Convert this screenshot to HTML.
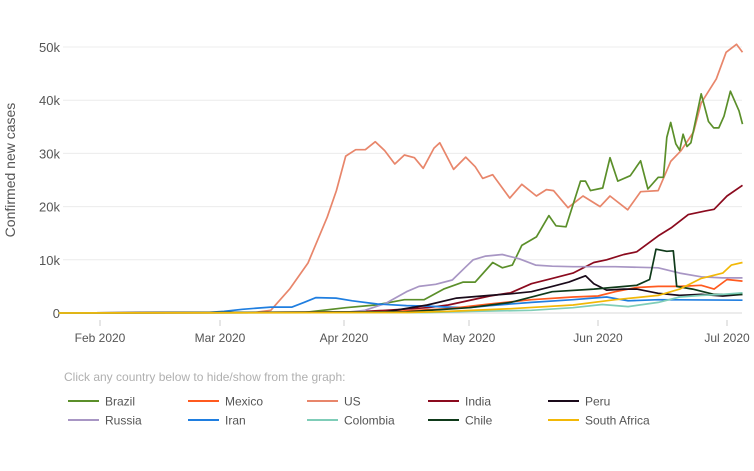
<!DOCTYPE html>
<html><head><meta charset="utf-8"><style>
body{margin:0;background:#fff;font-family:"Liberation Sans",sans-serif}
svg{display:block}
</style></head><body>
<svg id="chart" width="754" height="471"></svg>
<script>
const yTicks=[0,10000,20000,30000,40000,50000];
const yTickLabels=["0","10k","20k","30k","40k","50k"];
const xTickDays=[10,39,70,100,131,161];
const xTickLabels=["Feb 2020","Mar 2020","Apr 2020","May 2020","Jun 2020","Jul 2020"];
const countries=["Brazil","Mexico","US","India","Peru","Russia","Iran","Colombia","Chile","South Africa"];
const colors=["#5b8f2a","#ff5a1f","#e8866b","#8b0a1e","#1a0a1a","#a896c4","#1f7ee0","#7fcdb8","#0f3a1a","#f2b807"];
const usDays=[0,40,48,51.7,56.4,61,65.8,68.1,70.4,72.8,75.1,77.5,79.8,82.2,84.5,86.9,89,91.6,93,96.3,99.2,101.5,103.3,105.7,109.8,112.7,116.2,118.6,120.3,123.8,127.4,131.5,133.8,137.9,140.9,145,147.9,150.3,153.2,155,158.5,160.8,163.2,164.6];
const usVals=[0,50,150,500,4500,9400,18000,23000,29500,30700,30700,32200,30500,28000,29700,29200,27200,31000,32000,27000,29300,27500,25300,26000,21600,24200,22000,23200,23000,19800,22000,20000,22000,19400,22800,23000,28500,30500,34000,39500,44000,49000,50500,49000];
const brDays=[0,60,70.4,77.5,84.5,89.2,93.9,98.6,101.5,105.7,108,110.4,112.7,116.2,119.2,120.9,123.3,126.8,128,129.2,132.1,133.8,135.6,138.5,140.9,142.6,145,146.2,147,147.9,149.1,150,150.8,151.7,152.6,155,156.7,157.9,159.1,160.3,161.8,163.8,164.6];
const brVals=[0,100,1000,1500,2500,2500,4500,5800,5800,9500,8500,9000,12700,14300,18300,16400,16200,24800,24800,23000,23500,29200,24800,25800,28600,23300,25500,25500,33000,35800,31800,30600,33600,31300,32000,41200,36000,34800,34800,37000,41700,38000,35500];
const inDays=[0,70,80,90,95,105,110,115,120,125,130,133,137,140,145,148,152,156,158,161,164.6];
const inVals=[0,100,500,1000,1500,3200,3800,5500,6500,7500,9500,10000,11000,11500,14500,16000,18500,19200,19500,22000,24000];
const ruDays=[0,70,75,80,85,88,92,96,99,101,104,108,112,116,120,125,135,145,150,155,160,164.6];
const ruVals=[0,100,500,1800,4000,5000,5400,6200,8500,10000,10700,11000,10200,9000,8800,8700,8700,8500,7500,6800,6600,6600];
const irDays=[0,36,40,44.6,51.7,57,60,63,68,72,78,85,90,95,100,105,115,125,133,138,145,164.6];
const irVals=[0,100,300,700,1100,1100,2000,2900,2800,2300,1700,1400,1300,1100,1000,1400,2000,2500,3000,2300,2500,2400];
const mxDays=[0,80,95,105,115,125,131,135,140,145,150,155,158,161,164.6];
const mxVals=[0,200,800,1700,2500,3000,3200,4000,4800,5000,5000,5200,4500,6300,6000];
const peDays=[0,80,90,97,105,110,115,120,124,128,130,133,137,140,145,150,155,160,164.6];
const peVals=[0,200,1500,2800,3300,3600,4000,5000,5800,7000,5500,4300,4500,4500,3700,3300,3500,3200,3500];
const clDays=[0,85,100,110,120,130,140,143,144.5,147,148.5,149.3,153,158,164.6];
const clVals=[0,200,1000,2000,4000,4500,5200,6300,12000,11600,11700,5000,4500,3500,3500];
const coDays=[0,90,100,115,125,132,138,145,150,155,160,164.6];
const coVals=[0,100,300,500,1000,1600,1200,2000,3000,3300,3500,3800];
const saDays=[0,85,95,110,125,135,145,150,155,160,162,164.6];
const saVals=[0,100,300,800,1500,2500,3300,4500,6500,7500,9000,9500];
const seriesDays=[brDays,mxDays,usDays,inDays,peDays,ruDays,irDays,coDays,clDays,saDays];
const seriesVals=[brVals,mxVals,usVals,inVals,peVals,ruVals,irVals,coVals,clVals,saVals];

const NS="http://www.w3.org/2000/svg";
const svg=document.getElementById('chart');
// piecewise-linear time axis calibrated to month tick positions
const axisDays=[10,39,70,100,131,161];
const axisPx=[100,220,344,469,598,727];
function X(d){
  let k=0;
  if(d<=axisDays[0]) k=0;
  else if(d>=axisDays[axisDays.length-1]) k=axisDays.length-2;
  else while(d>axisDays[k+1]) k++;
  const t=(d-axisDays[k])/(axisDays[k+1]-axisDays[k]);
  return axisPx[k]+t*(axisPx[k+1]-axisPx[k]);
}
const Y=v=>313-v*(266/50000);
function mk(t,a,p){const e=document.createElementNS(NS,t);for(const k in a)e.setAttribute(k,a[k]);(p||svg).appendChild(e);return e;}
yTicks.forEach((v,i)=>{
  const g=mk('line',{x1:63,x2:742,y1:Y(v),y2:Y(v),stroke:i?'#ececec':'#d8d8d8','stroke-width':1});
  
  
  const t=mk('text',{x:60,y:Y(v)+5,'text-anchor':'end','font-size':13,fill:'#555'});
  t.textContent=yTickLabels[i];
  
  
});
xTickDays.forEach((d,i)=>{
  const l=mk('line',{x1:X(d),x2:X(d),y1:320,y2:326,stroke:'#ccc'});
  
  
  const t=mk('text',{x:X(d),y:342,'text-anchor':'middle','font-size':12,fill:'#555'});
  t.textContent=xTickLabels[i];
  
  
});
const yt=mk('text',{x:0,y:0,transform:'translate(15,170) rotate(-90)','text-anchor':'middle','font-size':14,fill:'#555'});
yt.textContent='Confirmed new cases';


const order=[2,0,3,5,6,1,4,8,7,9];
order.forEach(i=>{
  const pts=seriesDays[i].map((d,j)=>X(d).toFixed(1)+','+Y(seriesVals[i][j]).toFixed(1)).join(' ');
  const p=mk('polyline',{points:pts,fill:'none',stroke:colors[i],'stroke-width':1.7,'stroke-linejoin':'round'});
  
  
});
const hint=mk('text',{x:64,y:381,'font-size':12,fill:'#b0b0b0'});
hint.textContent='Click any country below to hide/show from the graph:';


const colX=[68,188,307,428,548];
countries.forEach((c,i)=>{
  const cx=colX[i%5], cy=i<5?401:420;
  const g=mk('g',{});
  
  
  mk('line',{x1:cx,x2:cx+31,y1:cy,y2:cy,stroke:colors[i],'stroke-width':2},g);
  const t=mk('text',{x:cx+37,y:cy+4.5,'font-size':12,fill:'#555'},g);
  t.textContent=c;
});
</script>
</body></html>
